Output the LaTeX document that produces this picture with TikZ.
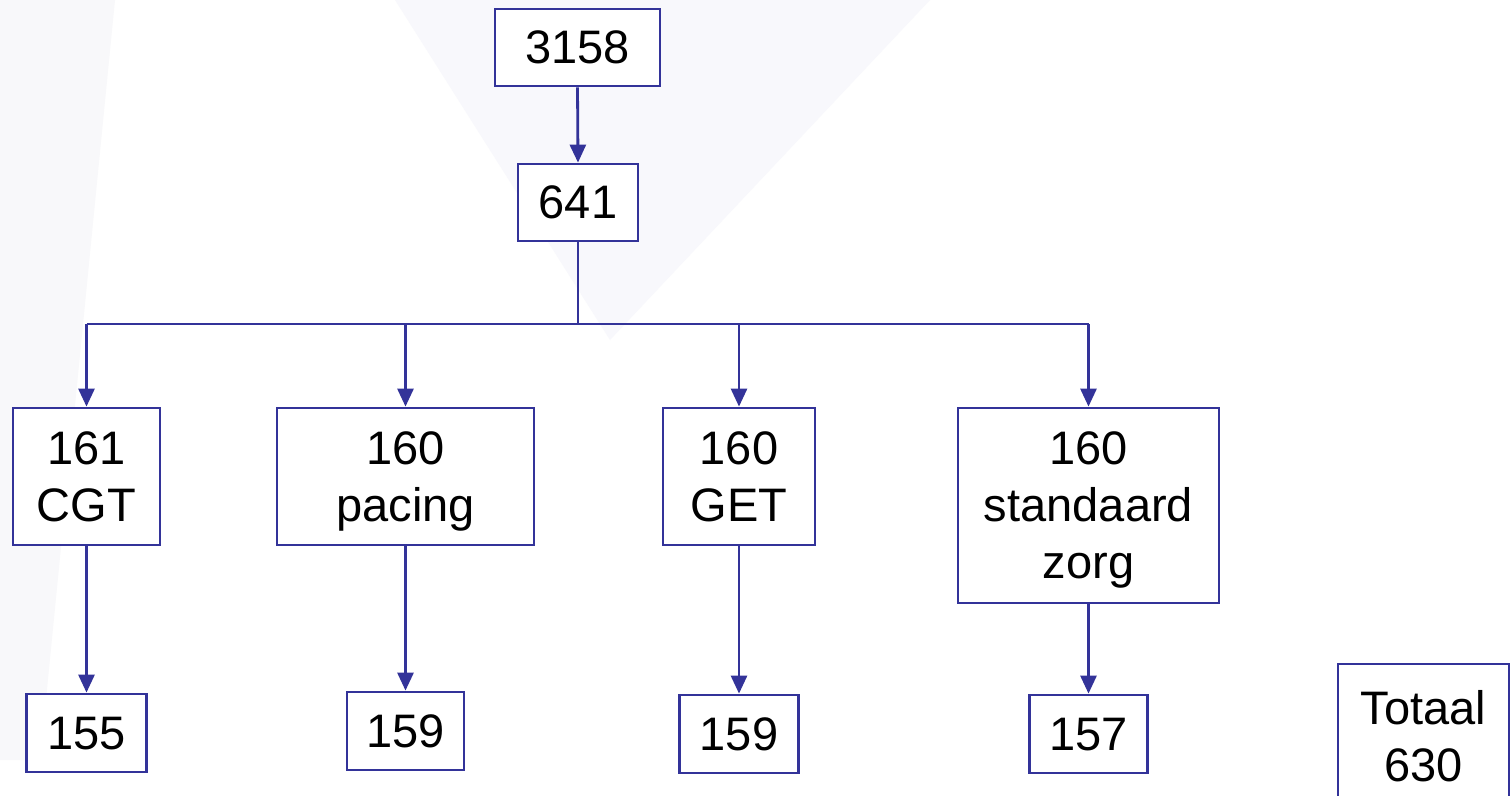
\documentclass[tikz,border=0pt]{standalone}
\usepackage{fontspec}
\setmainfont{Liberation Sans}
\usetikzlibrary{arrows.meta}
\definecolor{lineblue}{HTML}{333399}
\definecolor{bgA}{HTML}{F8F8FC}
\definecolor{bgB}{HTML}{F8F8FA}
\begin{document}
\begin{tikzpicture}[x=1pt,y=-1pt,
  box/.style={draw=lineblue, line width=2.8pt, fill=white, inner sep=0pt,
    align=center, text depth=0pt, font=\fontsize{47}{57}\selectfont, text=black},
  arr/.style={draw=lineblue, line width=2.8pt, -{Triangle[width=16pt,length=18pt]}},
  ln/.style={draw=lineblue, line width=2.8pt}]
\clip (0,0) rectangle (1511,795);
\useasboundingbox (0,0) rectangle (1511,795);
\fill[white] (0,0) rectangle (1511,795);
% faint background shapes
\fill[bgB] (0,0) -- (115,0) -- (40,760) -- (0,760) -- cycle;
\fill[bgA] (395,0) -- (930,0) -- (610,340) -- cycle;
% nodes
\node[box, minimum width=165pt, minimum height=77pt] (n3158) at (577.5,47.5) {3158};
\node[box, minimum width=120pt, minimum height=77pt] (n641) at (578,202.5) {641};
\node[box, minimum width=147pt, minimum height=137pt] (cgt) at (86.5,476.5) {161\\CGT};
\node[box, minimum width=257pt, minimum height=137pt] (pac) at (405.5,476.5) {160\\pacing};
\node[box, minimum width=152pt, minimum height=137pt] (get) at (739,476.5) {160\\GET};
\node[box, minimum width=261pt, minimum height=195pt] (std) at (1088.5,505.5) {160\\standaard\\zorg};
\node[box, minimum width=120pt, minimum height=78pt] (r155) at (86.5,733) {155};
\node[box, minimum width=117pt, minimum height=78pt] (r159a) at (405.5,731) {159};
\node[box, minimum width=119pt, minimum height=78pt] (r159b) at (739,734) {159};
\node[box, minimum width=118pt, minimum height=78pt] (r157) at (1088.5,734) {157};
\node[box, minimum width=171pt, minimum height=144pt] (tot) at (1423.5,736) {Totaal\\630};
% connectors
\draw[arr] (n3158.south) -- (n641.north);
\coordinate (busL) at (86.5,324);
\coordinate (busR) at (1088.5,324);
\draw[ln] (busL) -- (busR);
\draw[ln] (n641.south) -- (n641.south |- busL);
\draw[arr] (busL) -- (cgt.north);
\draw[arr] (pac.north |- busL) -- (pac.north);
\draw[arr] (get.north |- busL) -- (get.north);
\draw[arr] (busR) -- (std.north);
\draw[arr] (cgt.south) -- (r155.north);
\draw[arr] (pac.south) -- (r159a.north);
\draw[arr] (get.south) -- (r159b.north);
\draw[arr] (std.south) -- (r157.north);
\end{tikzpicture}
\end{document}
